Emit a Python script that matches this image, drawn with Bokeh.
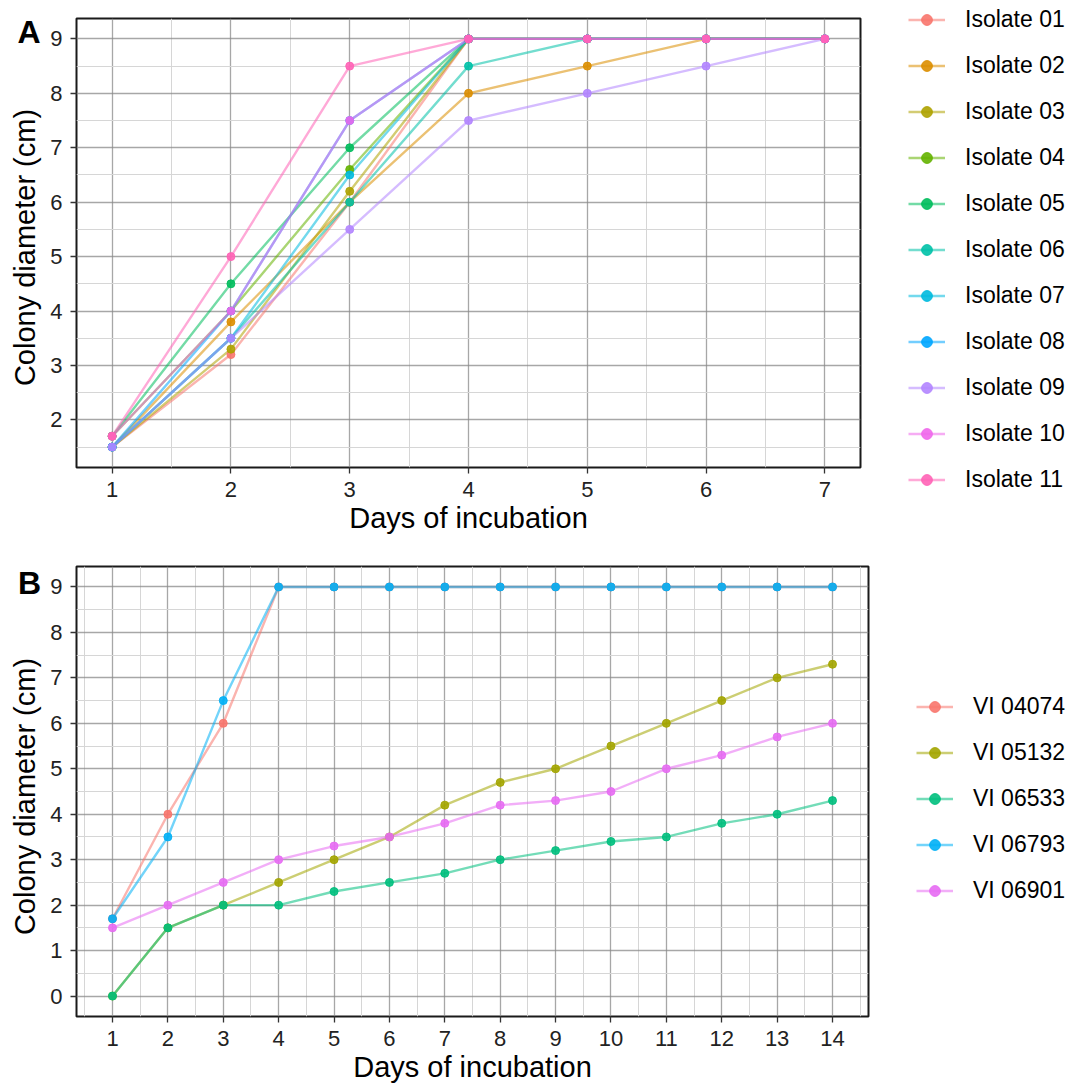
import math
from bokeh.plotting import figure
from bokeh.models import FixedTicker, Range1d, Legend, LegendItem
from bokeh.layouts import column, row
from bokeh.core.properties import value
from bokeh.embed import file_html
from bokeh.resources import INLINE

# ---------------- data: panel A ----------------
days_a = [1, 2, 3, 4, 5, 6, 7]
isolate_names = ["Isolate 01", "Isolate 02", "Isolate 03", "Isolate 04", "Isolate 05", "Isolate 06",
                 "Isolate 07", "Isolate 08", "Isolate 09", "Isolate 10", "Isolate 11"]
iso01 = [1.5, 3.2, 6.0, 9.0, 9.0, 9.0, 9.0]
iso02 = [1.5, 3.8, 6.0, 8.0, 8.5, 9.0, 9.0]
iso03 = [1.5, 3.3, 6.2, 9.0, 9.0, 9.0, 9.0]
iso04 = [1.7, 4.0, 6.6, 9.0, 9.0, 9.0, 9.0]
iso05 = [1.7, 4.5, 7.0, 9.0, 9.0, 9.0, 9.0]
iso06 = [1.5, 3.5, 6.0, 8.5, 9.0, 9.0, 9.0]
iso07 = [1.5, 3.5, 6.5, 9.0, 9.0, 9.0, 9.0]
iso08 = [1.5, 4.0, 7.5, 9.0, 9.0, 9.0, 9.0]
iso09 = [1.5, 3.5, 5.5, 7.5, 8.0, 8.5, 9.0]
iso10 = [1.7, 4.0, 7.5, 9.0, 9.0, 9.0, 9.0]
iso11 = [1.7, 5.0, 8.5, 9.0, 9.0, 9.0, 9.0]
isolate_values = [iso01, iso02, iso03, iso04, iso05, iso06, iso07, iso08, iso09, iso10, iso11]
isolate_colors = ["#F8766D", "#DB8E00", "#AEA200", "#64B200", "#00BD5C", "#00C1A7",
                  "#00BADE", "#00A6FF", "#B385FF", "#EF67EB", "#FF63B6"]
yticks_a = [2, 3, 4, 5, 6, 7, 8, 9]
xticks_a = [1, 2, 3, 4, 5, 6, 7]

# ---------------- data: panel B ----------------
days_b = [1, 2, 3, 4, 5, 6, 7, 8, 9, 10, 11, 12, 13, 14]
strain_names = ["VI 04074", "VI 05132", "VI 06533", "VI 06793", "VI 06901"]
vi04074 = [1.7, 4.0, 6.0, 9.0, 9.0, 9.0, 9.0, 9.0, 9.0, 9.0, 9.0, 9.0, 9.0, 9.0]
vi05132 = [0.0, 1.5, 2.0, 2.5, 3.0, 3.5, 4.2, 4.7, 5.0, 5.5, 6.0, 6.5, 7.0, 7.3]
vi06533 = [0.0, 1.5, 2.0, 2.0, 2.3, 2.5, 2.7, 3.0, 3.2, 3.4, 3.5, 3.8, 4.0, 4.3]
vi06793 = [1.7, 3.5, 6.5, 9.0, 9.0, 9.0, 9.0, 9.0, 9.0, 9.0, 9.0, 9.0, 9.0, 9.0]
vi06901 = [1.5, 2.0, 2.5, 3.0, 3.3, 3.5, 3.8, 4.2, 4.3, 4.5, 5.0, 5.3, 5.7, 6.0]
strain_values = [vi04074, vi05132, vi06533, vi06793, vi06901]
strain_colors = ["#F8766D", "#A3A500", "#00BF7D", "#00B0F6", "#E76BF3"]
yticks_b = [0, 1, 2, 3, 4, 5, 6, 7, 8, 9]
xticks_b = [1, 2, 3, 4, 5, 6, 7, 8, 9, 10, 11, 12, 13, 14]

x_title = "Days of incubation"
y_title = "Colony diameter (cm)"
FONT = "Liberation Sans"
TAG_W = 44
LINE_W = 2.4
LINE_A = 0.55
PT_SIZE = 8
PT_A = 0.9


def make_tag(height, b_top, b_bottom, tag, tag_cx, tag_cy, title_cy):
    """Narrow strip at the left holding the panel letter and the y-axis title.
    Data units equal pixels: y = figure height - pixel row."""
    t = figure(width=TAG_W, height=height, output_backend="svg", toolbar_location=None,
               x_range=Range1d(0, TAG_W), y_range=Range1d(b_bottom, height - b_top),
               x_axis_type=None, y_axis_type=None,
               min_border_left=0, min_border_right=0,
               min_border_top=b_top, min_border_bottom=b_bottom)
    t.grid.visible = False
    t.outline_line_color = None
    t.background_fill_color = "white"
    t.border_fill_color = "white"
    t.text(x=[tag_cx], y=[height - tag_cy], text=[tag], text_font=value(FONT),
           text_font_size="32px", text_font_style="bold", text_color="#000000",
           text_align="center", text_baseline="middle")
    t.text(x=[24], y=[height - title_cy], text=[y_title], angle=math.pi / 2,
           text_font=value(FONT), text_font_size="29px", text_color="#000000",
           text_align="center", text_baseline="middle")
    return t


def make_panel(days, names, values, colors, xticks, yticks, xr, yr,
               fw, fh, b_top, b_bottom, legend_loc):
    p = figure(frame_width=fw, frame_height=fh, output_backend="svg", toolbar_location=None,
               x_range=Range1d(*xr), y_range=Range1d(*yr),
               min_border_left=76 - TAG_W, min_border_right=0,
               min_border_top=b_top, min_border_bottom=b_bottom)
    p.background_fill_color = "white"
    p.border_fill_color = "white"
    p.outline_line_color = "#1a1a1a"
    p.outline_line_width = 2

    xminor = [t + 0.5 for t in [xticks[0] - 1] + xticks]
    yminor = [t + 0.5 for t in [yticks[0] - 1] + yticks]
    p.xaxis.ticker = FixedTicker(ticks=xticks, minor_ticks=xminor)
    p.yaxis.ticker = FixedTicker(ticks=yticks, minor_ticks=yminor)

    for g in (p.xgrid[0], p.ygrid[0]):
        g.grid_line_color = "#8a8a8a"
        g.grid_line_width = 1.3
        g.grid_line_alpha = 0.75
        g.minor_grid_line_color = "#d6d6d6"
        g.minor_grid_line_width = 1.0

    for ax in (p.xaxis[0], p.yaxis[0]):
        ax.axis_line_color = None
        ax.major_tick_line_color = "#333333"
        ax.major_tick_line_width = 1.3
        ax.major_tick_out = 6
        ax.major_tick_in = 0
        ax.minor_tick_line_color = None
        ax.major_label_text_font = FONT
        ax.major_label_text_font_size = "22px"
        ax.major_label_text_color = "#222222"
        ax.axis_label_text_font = FONT
        ax.axis_label_text_font_size = "29px"
        ax.axis_label_text_font_style = "normal"
        ax.axis_label_text_color = "#000000"
    p.xaxis.axis_label = x_title
    p.xaxis.major_label_standoff = 8
    p.xaxis.axis_label_standoff = 2
    p.yaxis.major_label_standoff = 8

    line_rs = []
    for vals, col in zip(values, colors):
        line_rs.append(p.line(days, vals, line_color=col, line_width=LINE_W, line_alpha=LINE_A))
    pt_rs = []
    for vals, col in zip(values, colors):
        pt_rs.append(p.scatter(days, vals, marker="circle", size=PT_SIZE, fill_color=col,
                               line_color=col, fill_alpha=PT_A, line_alpha=PT_A))

    items = [LegendItem(label=n, renderers=[lr, pr]) for n, lr, pr in zip(names, line_rs, pt_rs)]
    legend = Legend(items=items, location=legend_loc, margin=0, padding=5,
                    glyph_width=37, glyph_height=27, label_height=27, spacing=19,
                    label_standoff=20, label_text_font=FONT, label_text_font_size="23px",
                    label_text_color="#000000", border_line_color=None,
                    background_fill_alpha=0)
    p.add_layout(legend, "right")
    return p


# Panel A: page frame x 76..860, y 18..467 ; figure height 545
tA = make_tag(545, 18, 78, "A", 28.5, 31.5, 247)
pA = make_panel(days_a, isolate_names, isolate_values, isolate_colors, xticks_a, yticks_a,
                (0.7, 7.3), (1.125, 9.375), 784, 449, 18, 78, (48, -26))

# Panel B: page frame x 76..868, y 566..1016 ; figure height 540
tB = make_tag(540, 21, 69, "B", 29, 37, 251)
pB = make_panel(days_b, strain_names, strain_values, strain_colors, xticks_b, yticks_b,
                (0.35, 14.65), (-0.45, 9.45), 792, 450, 21, 69, (48, 112))

layout = column(row(tA, pA, spacing=0), row(tB, pB, spacing=0), spacing=0)
open("out.html", "w").write(file_html(layout, INLINE))
